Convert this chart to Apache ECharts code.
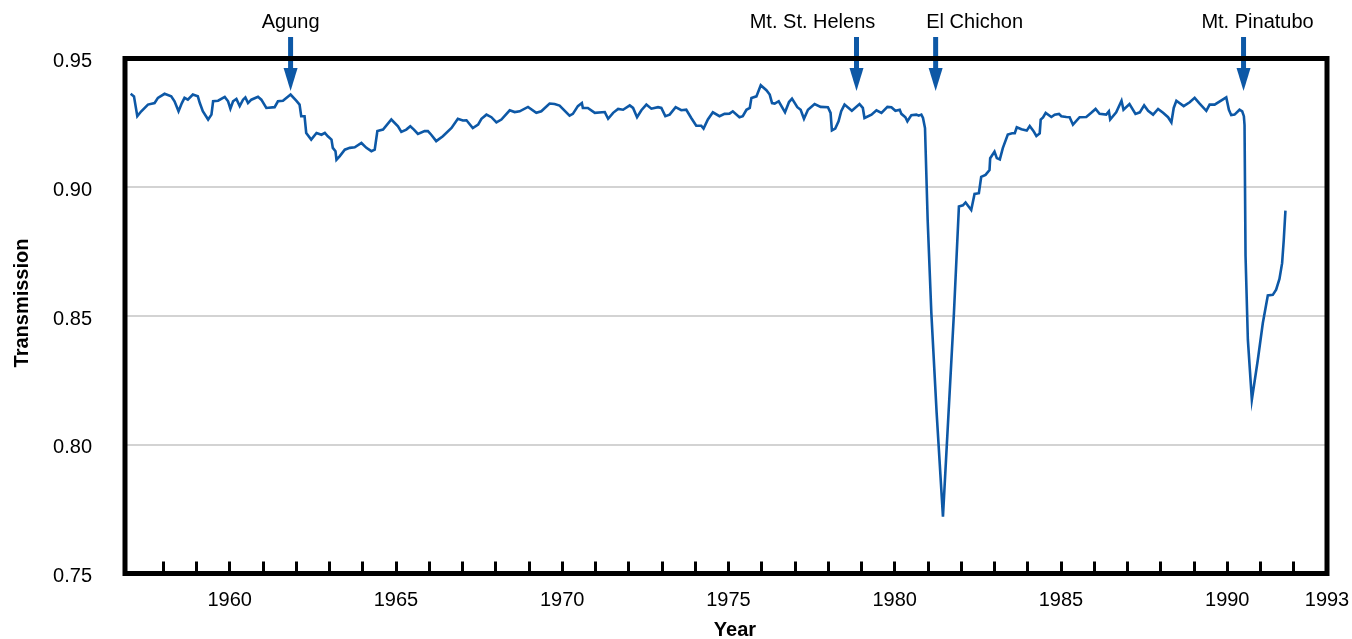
<!DOCTYPE html>
<html>
<head>
<meta charset="utf-8">
<title>Apparent solar transmission</title>
<script src="https://cdn.jsdelivr.net/npm/echarts@6/dist/echarts.min.js"></script>
<style>
  html, body { margin: 0; padding: 0; background: #fff; }
  #chart { width: 1352px; height: 639px; }
</style>
</head>
<body>
<div id="chart"></div>
<script>
// Decimal year of each observation
const years = [
  1957.02, 1957.12, 1957.22, 1957.34, 1957.54, 1957.74, 1957.84, 1958.04, 1958.24, 1958.34,
  1958.46, 1958.56, 1958.64, 1958.74, 1958.89, 1959.04, 1959.10, 1959.19, 1959.35, 1959.45,
  1959.50, 1959.65, 1959.85, 1959.95, 1960.02, 1960.10, 1960.20, 1960.30, 1960.40, 1960.47,
  1960.55, 1960.65, 1960.85, 1960.95, 1961.10, 1961.35, 1961.45, 1961.60, 1961.83, 1962.00,
  1962.10, 1962.15, 1962.25, 1962.30, 1962.45, 1962.61, 1962.76, 1962.86, 1962.95, 1963.06,
  1963.10, 1963.18, 1963.21, 1963.31, 1963.46, 1963.61, 1963.76, 1963.96, 1964.11, 1964.26,
  1964.36, 1964.44, 1964.61, 1964.86, 1965.06, 1965.16, 1965.31, 1965.43, 1965.54, 1965.66,
  1965.86, 1965.96, 1966.06, 1966.21, 1966.41, 1966.67, 1966.86, 1967.01, 1967.12, 1967.31,
  1967.47, 1967.57, 1967.72, 1967.87, 1968.02, 1968.17, 1968.42, 1968.57, 1968.72, 1968.97,
  1969.22, 1969.37, 1969.62, 1969.77, 1969.92, 1970.22, 1970.32, 1970.47, 1970.59, 1970.62,
  1970.77, 1970.98, 1971.28, 1971.38, 1971.53, 1971.68, 1971.83, 1972.03, 1972.13, 1972.25,
  1972.38, 1972.53, 1972.68, 1972.88, 1972.98, 1973.10, 1973.23, 1973.41, 1973.58, 1973.73,
  1973.88, 1974.03, 1974.18, 1974.25, 1974.38, 1974.53, 1974.73, 1974.88, 1975.03, 1975.13,
  1975.33, 1975.43, 1975.54, 1975.64, 1975.69, 1975.84, 1975.97, 1976.14, 1976.24, 1976.31,
  1976.39, 1976.51, 1976.70, 1976.82, 1976.91, 1977.07, 1977.17, 1977.27, 1977.39, 1977.59,
  1977.77, 1977.99, 1978.07, 1978.11, 1978.21, 1978.31, 1978.37, 1978.39, 1978.49, 1978.71,
  1978.94, 1979.04, 1979.09, 1979.30, 1979.45, 1979.60, 1979.78, 1979.90, 1980.02, 1980.15,
  1980.20, 1980.32, 1980.38, 1980.50, 1980.65, 1980.72, 1980.80, 1980.85, 1980.91, 1980.99,
  1981.10, 1981.26, 1981.45, 1981.78, 1981.93, 1982.05, 1982.13, 1982.30, 1982.40, 1982.53,
  1982.60, 1982.73, 1982.85, 1982.87, 1983.00, 1983.07, 1983.16, 1983.25, 1983.40, 1983.53,
  1983.61, 1983.67, 1983.81, 1983.97, 1984.06, 1984.17, 1984.26, 1984.36, 1984.39, 1984.46,
  1984.54, 1984.71, 1984.81, 1984.94, 1985.01, 1985.16, 1985.26, 1985.36, 1985.56, 1985.76,
  1985.91, 1986.04, 1986.16, 1986.36, 1986.44, 1986.48, 1986.66, 1986.82, 1986.88, 1987.06,
  1987.24, 1987.37, 1987.50, 1987.62, 1987.77, 1987.92, 1988.07, 1988.22, 1988.32, 1988.39,
  1988.47, 1988.69, 1988.87, 1989.02, 1989.17, 1989.37, 1989.47, 1989.62, 1989.97, 1990.05,
  1990.12, 1990.22, 1990.37, 1990.45, 1990.50, 1990.52, 1990.55, 1990.62, 1990.74, 1990.92,
  1991.07, 1991.22, 1991.37, 1991.47, 1991.57, 1991.65, 1991.70, 1991.75
];

// Apparent transmission at each of those dates
const transmission = [
  0.9363, 0.9353, 0.9276, 0.9295, 0.9321, 0.9327, 0.9347, 0.9363, 0.9353, 0.9334,
  0.9295, 0.9327, 0.9347, 0.9340, 0.9360, 0.9353, 0.9327, 0.9295, 0.9263, 0.9282,
  0.9334, 0.9336, 0.9351, 0.9334, 0.9305, 0.9334, 0.9343, 0.9315, 0.9340, 0.9349,
  0.9327, 0.9340, 0.9351, 0.9340, 0.9308, 0.9311, 0.9334, 0.9336, 0.9360, 0.9336,
  0.9321, 0.9276, 0.9276, 0.9211, 0.9185, 0.9211, 0.9204, 0.9211, 0.9198, 0.9185,
  0.9153, 0.9140, 0.9107, 0.9121, 0.9146, 0.9153, 0.9155, 0.9172, 0.9153, 0.9140,
  0.9146, 0.9218, 0.9224, 0.9263, 0.9237, 0.9215, 0.9224, 0.9237, 0.9224, 0.9207,
  0.9218, 0.9218, 0.9204, 0.9179, 0.9198, 0.9230, 0.9266, 0.9259, 0.9260, 0.9230,
  0.9243, 0.9266, 0.9282, 0.9272, 0.9252, 0.9263, 0.9299, 0.9292, 0.9295, 0.9312,
  0.9289, 0.9295, 0.9325, 0.9323, 0.9317, 0.9278, 0.9285, 0.9315, 0.9327, 0.9308,
  0.9308, 0.9289, 0.9292, 0.9266, 0.9289, 0.9304, 0.9301, 0.9318, 0.9308, 0.9272,
  0.9299, 0.9321, 0.9305, 0.9311, 0.9308, 0.9276, 0.9282, 0.9311, 0.9299, 0.9301,
  0.9269, 0.9239, 0.9239, 0.9228, 0.9263, 0.9291, 0.9276, 0.9285, 0.9286, 0.9295,
  0.9272, 0.9276, 0.9301, 0.9308, 0.9347, 0.9353, 0.9396, 0.9377, 0.9360, 0.9327,
  0.9325, 0.9334, 0.9291, 0.9331, 0.9344, 0.9311, 0.9301, 0.9266, 0.9301, 0.9323,
  0.9312, 0.9311, 0.9289, 0.9221, 0.9228, 0.9256, 0.9259, 0.9295, 0.9321, 0.9297,
  0.9323, 0.9308, 0.9269, 0.9282, 0.9299, 0.9289, 0.9312, 0.9311, 0.9297, 0.9301,
  0.9285, 0.9272, 0.9256, 0.9280, 0.9282, 0.9278, 0.9282, 0.9269, 0.9230, 0.8873,
  0.8513, 0.8124, 0.7721, 0.8511, 0.8925, 0.8930, 0.8941, 0.8912, 0.8974, 0.8977,
  0.9040, 0.9048, 0.9067, 0.9113, 0.9138, 0.9113, 0.9108, 0.9152, 0.9205, 0.9210,
  0.9210, 0.9233, 0.9225, 0.9220, 0.9238, 0.9219, 0.9199, 0.9209, 0.9263, 0.9271,
  0.9289, 0.9273, 0.9282, 0.9285, 0.9276, 0.9273, 0.9272, 0.9243, 0.9272, 0.9273,
  0.9289, 0.9304, 0.9285, 0.9282, 0.9295, 0.9263, 0.9291, 0.9336, 0.9301, 0.9323,
  0.9285, 0.9291, 0.9318, 0.9297, 0.9282, 0.9304, 0.9289, 0.9272, 0.9252, 0.9308,
  0.9336, 0.9315, 0.9330, 0.9347, 0.9325, 0.9297, 0.9321, 0.9321, 0.9349, 0.9301,
  0.9280, 0.9282, 0.9301, 0.9295, 0.9276, 0.9242, 0.8734, 0.8408, 0.8175, 0.8330,
  0.8473, 0.8580, 0.8582, 0.8602, 0.8644, 0.8705, 0.8796, 0.8909
];

// Volcanic eruptions marked with arrows
const eruptionNames = ['Agung', 'Mt. St. Helens', 'El Chichon', 'Mt. Pinatubo'];
const eruptionYears = [1961.83, 1978.85, 1981.23, 1990.49];

// Axis ticks and labels
const yearTicks = [];
for (let y = 1958; y <= 1992; y++) yearTicks.push(y);
const yearLabels = [1960, 1965, 1970, 1975, 1980, 1985, 1990, 1993];

// Drawing constants
const BLUE = '#0d58a6';
const FONT = '"Liberation Sans", Arial, Helvetica, sans-serif';
const FONT_SIZE = 20;
const labelShift = [0, -44, 39, 14];   // horizontal label offset from each arrow, px
const ARROW_TOP = 37, ARROW_HEAD = 68, ARROW_TIP = 91, LABEL_Y = 22;
const X_MIN = 1956.85, X_MAX = 1993, Y_MIN = 0.75, Y_MAX = 0.95;

const chart = echarts.init(document.getElementById('chart'), null, { renderer: 'canvas' });

const seriesData = years.map((y, i) => [y, transmission[i]]);

chart.setOption({
  animation: false,
  backgroundColor: '#fff',
  grid: {
    left: 125, right: 25, top: 58.5, bottom: 65.5,
    show: false, containLabel: false, outerBoundsMode: 'none'
  },
  xAxis: {
    type: 'value',
    min: X_MIN,
    max: X_MAX,
    name: 'Year',
    nameLocation: 'middle',
    nameGap: 47,
    nameTextStyle: { fontFamily: FONT, fontSize: FONT_SIZE, fontWeight: 'bold', color: '#000', padding: [0, 0, 0, 18] },
    axisLine: { show: false, onZero: false },
    axisTick: {
      show: true, inside: true, length: 12,
      customValues: yearTicks,
      lineStyle: { color: '#000', width: 3 }
    },
    axisLabel: {
      customValues: yearLabels,
      fontFamily: FONT, fontSize: FONT_SIZE, color: '#000', margin: 17,
      formatter: v => String(Math.round(v))
    },
    splitLine: { show: false }
  },
  yAxis: {
    type: 'value',
    min: Y_MIN,
    max: Y_MAX,
    interval: 0.05,
    name: 'Transmission',
    nameLocation: 'middle',
    nameGap: 93,
    nameRotate: 90,
    nameTextStyle: { fontFamily: FONT, fontSize: FONT_SIZE, fontWeight: 'bold', color: '#000', padding: [0, 0, 0, 26] },
    axisLine: { show: false },
    axisTick: { show: false },
    axisLabel: {
      fontFamily: FONT, fontSize: FONT_SIZE, color: '#000', margin: 33,
      verticalAlign: 'top', lineHeight: 6,
      formatter: v => v.toFixed(2)
    },
    splitLine: { show: true, lineStyle: { color: '#c4c4c4', width: 1.5 } }
  },
  series: [{
    type: 'line',
    data: seriesData,
    showSymbol: false,
    symbol: 'none',
    smooth: false,
    clip: true,
    lineStyle: { color: BLUE, width: 2.6, join: 'miter' },
    z: 3
  }]
});

// Heavy frame round the plot, from the corners of the axis ranges
const topLeft = chart.convertToPixel({ gridIndex: 0 }, [X_MIN, Y_MAX]);
const bottomRight = chart.convertToPixel({ gridIndex: 0 }, [X_MAX, Y_MIN]);
const elements = [{
  type: 'rect', z: 20,
  shape: {
    x: topLeft[0], y: topLeft[1],
    width: bottomRight[0] - topLeft[0], height: bottomRight[1] - topLeft[1]
  },
  style: { fill: null, stroke: '#000', lineWidth: 5 }
}];

// Eruption arrows and names, placed through the x scale
eruptionNames.forEach((name, i) => {
  const x = chart.convertToPixel({ xAxisIndex: 0 }, eruptionYears[i]);
  elements.push({
    type: 'rect', z: 10,
    shape: { x: x - 2.5, y: ARROW_TOP, width: 5, height: ARROW_HEAD - ARROW_TOP + 1 },
    style: { fill: BLUE }
  });
  elements.push({
    type: 'polygon', z: 10,
    shape: { points: [[x - 7, ARROW_HEAD], [x + 7, ARROW_HEAD], [x, ARROW_TIP]] },
    style: { fill: BLUE }
  });
  elements.push({
    type: 'text', z: 10,
    x: x + labelShift[i], y: LABEL_Y,
    style: {
      text: name, fill: '#000', fontSize: FONT_SIZE, fontFamily: FONT,
      align: 'center', verticalAlign: 'middle'
    }
  });
});
chart.setOption({ graphic: { elements } });
</script>
</body>
</html>
